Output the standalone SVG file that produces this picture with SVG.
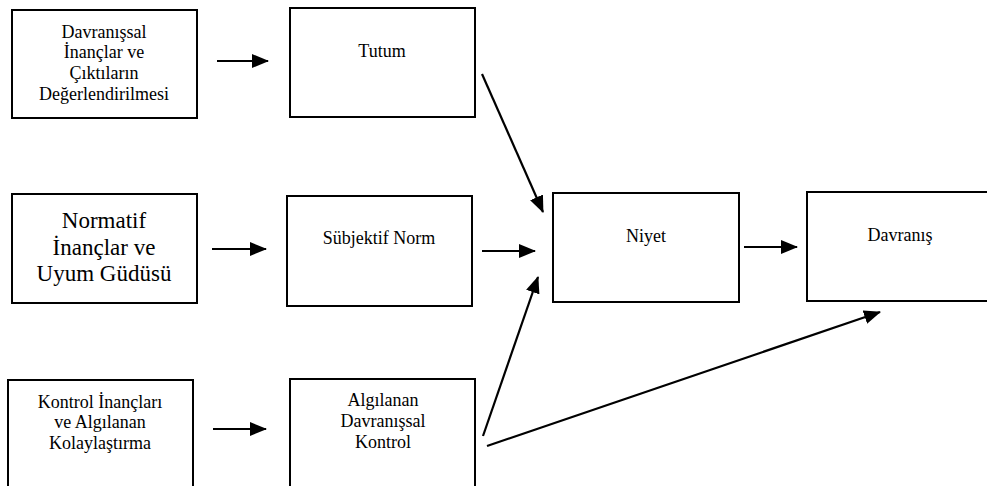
<svg xmlns="http://www.w3.org/2000/svg" width="987" height="486" viewBox="0 0 987 486" font-family="Liberation Serif, DejaVu Serif, serif">
  <style>
    .box { fill: #ffffff; stroke: #000000; stroke-width: 2; }
    .lbl { font-size: 18px; fill: #000000; text-anchor: middle; }
    .big { font-size: 23px; }
    .edge { stroke: #000000; stroke-width: 2.2; fill: none; marker-end: url(#head); }
  </style>
  <defs>
    <marker id="head" markerUnits="userSpaceOnUse" markerWidth="17" markerHeight="15" refX="16" refY="7" orient="auto">
      <path d="M0,0 L17,7 L0,14 z" fill="#000000"/>
    </marker>
  </defs>
  <rect width="987" height="486" fill="#ffffff"/>

  <g id="davranissal-inanclar">
    <rect class="box" x="12" y="10" width="185" height="108"/>
    <text class="lbl" x="104" y="38">Davranışsal</text>
    <text class="lbl" x="104" y="58">İnançlar ve</text>
    <text class="lbl" x="104" y="79">Çıktıların</text>
    <text class="lbl" x="104" y="100">Değerlendirilmesi</text>
  </g>

  <g id="tutum">
    <rect class="box" x="290" y="8" width="185" height="109"/>
    <text class="lbl" x="382" y="57">Tutum</text>
  </g>

  <g id="normatif-inanclar">
    <rect class="box" x="12" y="194" width="185" height="109"/>
    <text class="lbl big" x="104" y="228">Normatif</text>
    <text class="lbl big" x="104" y="255">İnançlar ve</text>
    <text class="lbl big" x="104" y="281">Uyum Güdüsü</text>
  </g>

  <g id="subjektif-norm">
    <rect class="box" x="287" y="196" width="185" height="110"/>
    <text class="lbl" x="379" y="244">Sübjektif Norm</text>
  </g>

  <g id="niyet">
    <rect class="box" x="553" y="193" width="186" height="109"/>
    <text class="lbl" x="646" y="242">Niyet</text>
  </g>

  <g id="davranis">
    <rect class="box" x="807" y="192" width="186" height="109"/>
    <text class="lbl" x="900" y="241">Davranış</text>
  </g>

  <g id="kontrol-inanclar">
    <rect class="box" x="8" y="380" width="185" height="120"/>
    <text class="lbl" x="100" y="408">Kontrol İnançları</text>
    <text class="lbl" x="100" y="428">ve Algılanan</text>
    <text class="lbl" x="100" y="449">Kolaylaştırma</text>
  </g>

  <g id="algilanan-kontrol">
    <rect class="box" x="290" y="379" width="185" height="120"/>
    <text class="lbl" x="383" y="406">Algılanan</text>
    <text class="lbl" x="383" y="427">Davranışsal</text>
    <text class="lbl" x="383" y="448">Kontrol</text>
  </g>

  <g id="connectors">
    <line class="edge" x1="217" y1="61" x2="268" y2="61"/>
    <line class="edge" x1="212" y1="249" x2="266" y2="249"/>
    <line class="edge" x1="213" y1="429" x2="266" y2="429"/>
    <line class="edge" x1="482" y1="251" x2="535" y2="251"/>
    <line class="edge" x1="744" y1="247" x2="797" y2="247"/>
    <line class="edge" x1="482" y1="74" x2="543" y2="212"/>
    <line class="edge" x1="483" y1="436" x2="538" y2="277"/>
    <line class="edge" x1="487" y1="446" x2="880" y2="312"/>
  </g>
</svg>
